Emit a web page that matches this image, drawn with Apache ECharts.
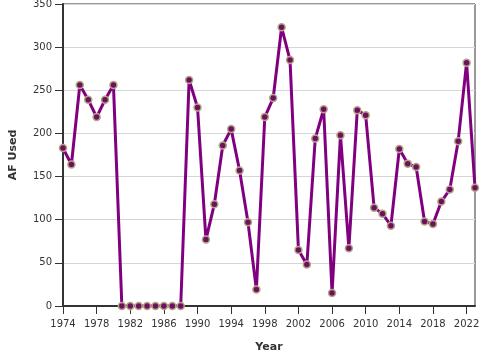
<!DOCTYPE html>
<html>
<head>
<meta charset="utf-8">
<script src="https://cdn.jsdelivr.net/npm/echarts@6/dist/echarts.min.js"></script>
<style>
  html, body { margin: 0; padding: 0; background: #fff; }
  #chart { width: 480px; height: 360px; }
</style>
</head>
<body>
<div id="chart"></div>
<script>
var years = [];
for (var y = 1974; y <= 2023; y++) years.push(y);
var afUsed = [183, 164, 256, 239, 219, 239, 256, 0, 0, 0,
              0, 0, 0, 0, 0, 262, 230, 77, 118, 186,
              205, 157, 97, 19, 219, 241, 323, 285, 65, 48,
              194, 228, 15, 198, 67, 227, 221, 114, 107, 93,
              182, 165, 161, 98, 95, 121, 135, 191, 282, 137];

(function(){
    var mychart = echarts.init(document.getElementById('chart'));
    var pts = years.map(function(yr, i){ return [yr, afUsed[i]]; });
    var option = {
        animation: false,
        grid: {
            left: 63, right: 5, top: 4, bottom: 54,
            outerBoundsMode: 'none', containLabel: false,
            show: true, borderColor: '#333', borderWidth: 1
        },
        xAxis: {
            type: 'value',
            min: 1974, max: 2023, interval: 4,
            name: 'Year', nameLocation: 'middle', nameGap: 36,
            nameTextStyle: { fontWeight: 'bold', fontSize: 11, color: '#333', fontFamily: 'DejaVu Sans' },
            axisLine: { lineStyle: { color: '#333', width: 2 } },
            axisTick: { show: true, length: 8, lineStyle: { color: '#333' } },
            axisLabel: { color: '#333', fontSize: 10, fontFamily: 'DejaVu Sans', margin: 13,
                         showMaxLabel: false,
                         formatter: function(v){ return String(v); } },
            splitLine: { show: false }
        },
        yAxis: {
            type: 'value',
            min: 0, max: 350, interval: 50,
            name: 'AF Used', nameLocation: 'middle', nameGap: 44,
            nameTextStyle: { fontWeight: 'bold', fontSize: 11, color: '#333', fontFamily: 'DejaVu Sans' },
            axisLine: { show: true, lineStyle: { color: '#333', width: 2 } },
            axisTick: { show: true, length: 8, lineStyle: { color: '#333' } },
            axisLabel: { color: '#333', fontSize: 10, fontFamily: 'DejaVu Sans', margin: 11 },
            splitLine: { lineStyle: { color: '#d6d6d6' } }
        },
        series: [{
            type: 'line',
            data: pts,
            symbol: 'circle',
            symbolSize: 7,
            lineStyle: { color: '#800080', width: 3 },
            itemStyle: { color: '#6e1060', borderColor: '#b4a684', borderWidth: 1.5 }
        }]
    };
    mychart.setOption(option);
})();
</script>
</body>
</html>
